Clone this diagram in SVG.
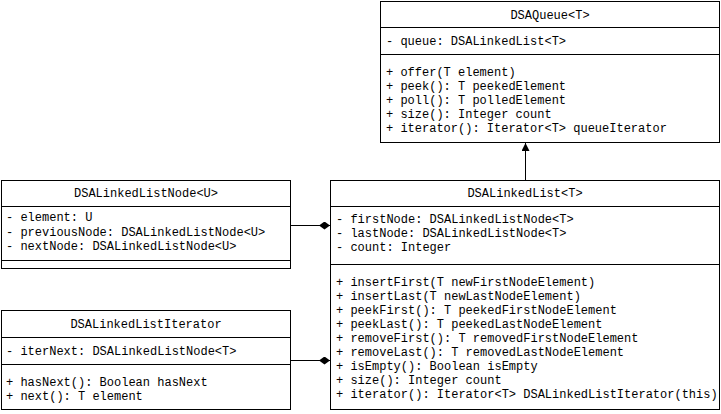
<svg xmlns="http://www.w3.org/2000/svg" width="721" height="414" viewBox="0 0 721 414">
<style>
.box{fill:#fff;stroke:#000;stroke-width:1}
.sep{stroke:#000;stroke-width:1}
text{font-family:"Liberation Mono","Courier New",monospace;font-size:12px;fill:#000}
.t{text-anchor:middle}
.edge{stroke:#000;stroke-width:1;fill:none}
</style>
<defs>
<marker id="tri" markerWidth="10" markerHeight="10" refX="8" refY="4" orient="auto" markerUnits="userSpaceOnUse">
<path d="M0,0 L8,4 L0,8 Z" fill="#000"/>
</marker>
<marker id="dia" markerWidth="14" markerHeight="10" refX="11" refY="4" orient="auto" markerUnits="userSpaceOnUse">
<path d="M0,4 L5.5,0 L11,4 L5.5,8 Z" fill="#000"/>
</marker>
</defs>
<g id="connectors">
<line class="edge" x1="525.5" y1="180" x2="525.5" y2="143" marker-end="url(#tri)"/>
<line class="edge" x1="290" y1="225.5" x2="330" y2="225.5" marker-end="url(#dia)"/>
<line class="edge" x1="290" y1="360.5" x2="330" y2="360.5" marker-end="url(#dia)"/>
</g>
<g id="DSAQueue">
<rect class="box" x="380.5" y="1.5" width="339" height="141"/>
<line class="sep" x1="380.5" y1="27.5" x2="719.5" y2="27.5"/>
<line class="sep" x1="380.5" y1="54.5" x2="719.5" y2="54.5"/>
<text class="t" x="550" y="19">DSAQueue&lt;T&gt;</text>
<text x="386" y="45">- queue: DSALinkedList&lt;T&gt;</text>
<text x="386" y="76">+ offer(T element)</text>
<text x="386" y="90">+ peek(): T peekedElement</text>
<text x="386" y="104">+ poll(): T polledElement</text>
<text x="386" y="118">+ size(): Integer count</text>
<text x="386" y="132">+ iterator(): Iterator&lt;T&gt; queueIterator</text>
</g>
<g id="DSALinkedListNode">
<rect class="box" x="1.5" y="180.5" width="289" height="88"/>
<line class="sep" x1="1.5" y1="206.5" x2="290.5" y2="206.5"/>
<line class="sep" x1="1.5" y1="260.5" x2="290.5" y2="260.5"/>
<text class="t" x="146" y="197">DSALinkedListNode&lt;U&gt;</text>
<text x="6" y="221">- element: U</text>
<text x="6" y="236">- previousNode: DSALinkedListNode&lt;U&gt;</text>
<text x="6" y="250">- nextNode: DSALinkedListNode&lt;U&gt;</text>
</g>
<g id="DSALinkedListIterator">
<rect class="box" x="1.5" y="310.5" width="289" height="99"/>
<line class="sep" x1="1.5" y1="337.5" x2="290.5" y2="337.5"/>
<line class="sep" x1="1.5" y1="364.5" x2="290.5" y2="364.5"/>
<text class="t" x="146" y="328">DSALinkedListIterator</text>
<text x="6" y="355">- iterNext: DSALinkedListNode&lt;T&gt;</text>
<text x="6" y="386">+ hasNext(): Boolean hasNext</text>
<text x="6" y="400">+ next(): T element</text>
</g>
<g id="DSALinkedList">
<rect class="box" x="330.5" y="180.5" width="389" height="229"/>
<line class="sep" x1="330.5" y1="206.5" x2="719.5" y2="206.5"/>
<line class="sep" x1="330.5" y1="264.5" x2="719.5" y2="264.5"/>
<text class="t" x="525" y="197">DSALinkedList&lt;T&gt;</text>
<text x="336" y="223">- firstNode: DSALinkedListNode&lt;T&gt;</text>
<text x="336" y="237">- lastNode: DSALinkedListNode&lt;T&gt;</text>
<text x="336" y="251">- count: Integer</text>
<text x="336" y="286">+ insertFirst(T newFirstNodeElement)</text>
<text x="336" y="300">+ insertLast(T newLastNodeElement)</text>
<text x="336" y="314">+ peekFirst(): T peekedFirstNodeElement</text>
<text x="336" y="328">+ peekLast(): T peekedLastNodeElement</text>
<text x="336" y="342">+ removeFirst(): T removedFirstNodeElement</text>
<text x="336" y="356">+ removeLast(): T removedLastNodeElement</text>
<text x="336" y="370">+ isEmpty(): Boolean isEmpty</text>
<text x="336" y="384">+ size(): Integer count</text>
<text x="336" y="398">+ iterator(): Iterator&lt;T&gt; DSALinkedListIterator(this)</text>
</g>
</svg>
